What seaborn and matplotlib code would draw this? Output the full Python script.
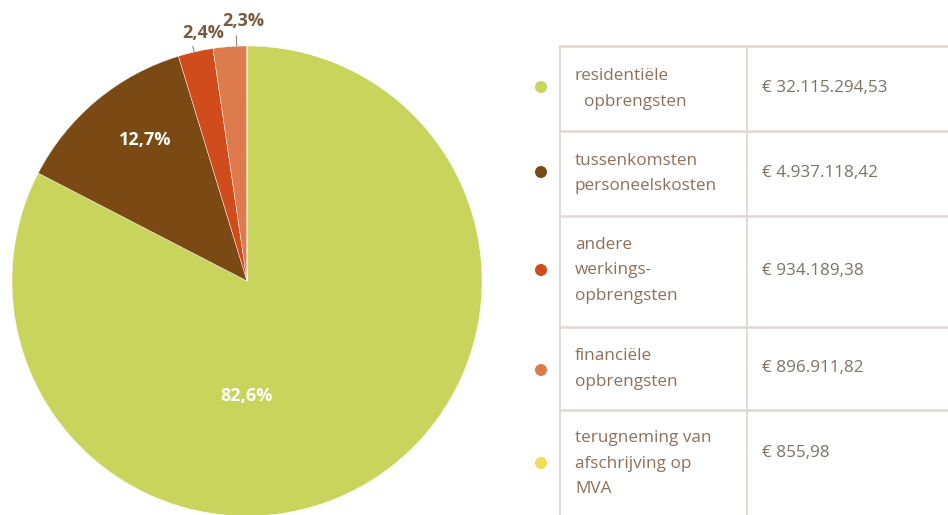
import numpy as np
import matplotlib
matplotlib.use("Agg")
import matplotlib.pyplot as plt
import seaborn as sns

# ---- data ----
categories = [
    ["residentiële", "  opbrengsten"],
    ["tussenkomsten", "personeelskosten"],
    ["andere", "werkings-", "opbrengsten"],
    ["financiële", "opbrengsten"],
    ["terugneming van", "afschrijving op", "MVA"],
]
amounts = [32115294.53, 4937118.42, 934189.38, 896911.82, 855.98]
amount_labels = ["€ 32.115.294,53", "€ 4.937.118,42", "€ 934.189,38",
                 "€ 896.911,82", "€ 855,98"]
colors = ["#c9d45c", "#7b4a14", "#d14c1d", "#dc7c4d", "#f1de58"]

sns.set_theme(style="white")
plt.rcParams["font.family"] = ["Open Sans", "DejaVu Sans"]
palette = sns.color_palette(colors)

W, H = 948, 515
fig = plt.figure(figsize=(W / 100, H / 100), dpi=100)
fig.patch.set_facecolor("white")

# ---- pie ----
cx, cy, r = 247, 281, 235
ax = fig.add_axes([(cx - r) / W, (H - cy - r) / H, 2 * r / W, 2 * r / H])
total = sum(amounts)


def fmt(p):
    return (f"{p:.1f}".replace(".", ",") + "%") if p >= 1 else ""


wedges, texts = ax.pie(amounts, colors=palette, startangle=90, counterclock=False,
                       radius=1.0, wedgeprops=dict(edgecolor="white", linewidth=0.3),
                       labels=[fmt(a / total * 100) for a in amounts],
                       labeldistance=0.6)
ax.set_xlim(-1, 1)
ax.set_ylim(-1, 1)
ax.set_aspect("equal")
ax.axis("off")

# label placement: (distance, angle in degrees) per wedge
label_pos = [(0.49, -90), (0.74, 125.8), (1.071, 100.0), (1.106, 90.9), None]
label_col = ["white", "white", "#7a5a3c", "#7a5a3c", None]
for t, pos, col in zip(texts, label_pos, label_col):
    if pos is None:
        t.set_text("")
        continue
    d, a = pos
    t.set_position((d * np.cos(np.radians(a)), d * np.sin(np.radians(a))))
    t.set_ha("center")
    t.set_va("center")
    t.set_color(col)
    t.set_fontsize(13)
    t.set_fontweight("bold")
    t.set_clip_on(False)

# leader lines for small slices
for ang, r0, r1 in [(103.0, 1.0, 1.025), (92.5, 1.0, 1.045)]:
    a = np.radians(ang)
    ax.plot([r0 * np.cos(a), r1 * np.cos(a)], [r0 * np.sin(a), r1 * np.sin(a)],
            color="#9a8a7a", lw=0.8, clip_on=False)

# ---- table ----
tax = fig.add_axes([0, 0, 1, 1])
tax.set_xlim(0, W)
tax.set_ylim(H, 0)
tax.axis("off")
tax.patch.set_alpha(0)

row_lines = [46, 131, 216, 327, 410]
x_left, x_div = 560, 747
line_col = "#e0d8cf"
for y in row_lines:
    tax.plot([x_left, W], [y, y], color=line_col, lw=1.8, solid_capstyle="butt")
tax.plot([x_left, x_left], [row_lines[0], H], color=line_col, lw=1.3)
tax.plot([x_div, x_div], [row_lines[0], H], color=line_col, lw=1.3)

dot_y = [87, 172, 270, 370, 463]
text_tops = [76, 161, 245, 356, 438]
value_y = [88, 173, 271, 368, 453]
line_step = 25.5
for i, (lines, val, col) in enumerate(zip(categories, amount_labels, palette)):
    tax.scatter([541], [dot_y[i]], s=75, color=col, edgecolor="none", zorder=3)
    for j, ln in enumerate(lines):
        tax.text(575, text_tops[i] + j * line_step, ln, fontsize=12.3,
                 color="#8f6f58", ha="left", va="center")
    tax.text(762, value_y[i], val, fontsize=12.3, color="#7f7266",
             ha="left", va="center")

fig.savefig("out.png", dpi=100, facecolor="white")
